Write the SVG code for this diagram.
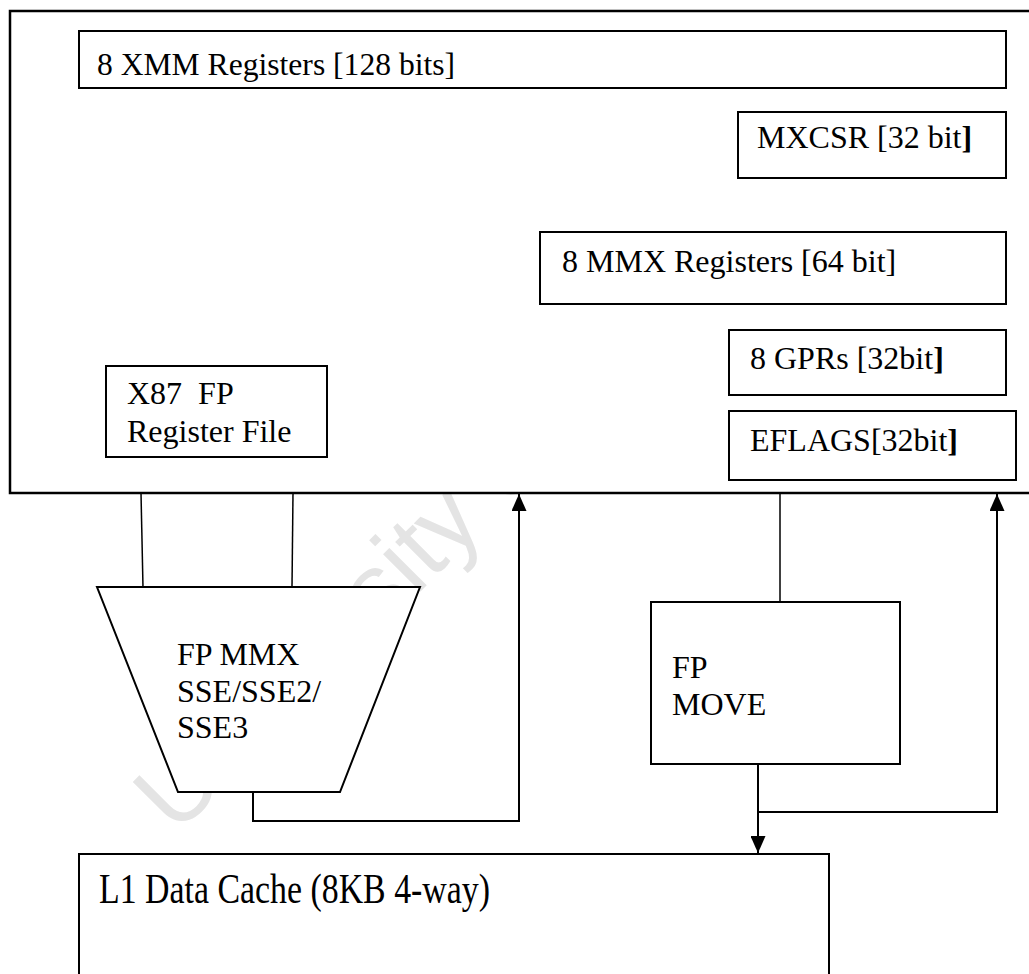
<svg xmlns="http://www.w3.org/2000/svg" width="1029" height="974" viewBox="0 0 1029 974">
  <style>
    .box { fill: #ffffff; stroke: #000000; stroke-width: 2; }
    .outer { fill: #ffffff; stroke: #000000; stroke-width: 2.5; }
    .lbl { font-family: "Liberation Serif", "Times New Roman", serif; font-size: 32px; fill: #000000; }
    .wire { fill: none; stroke: #000000; stroke-width: 1.5; }
    .arrow { fill: none; stroke: #000000; stroke-width: 2; marker-end: url(#head); }
    .wm { font-family: "Liberation Sans", Arial, sans-serif; font-size: 100px; fill: #e4e4e4; }
  </style>
  <defs>
    <marker id="head" markerUnits="userSpaceOnUse" viewBox="0 0 17 15" markerWidth="17" markerHeight="15" refX="17" refY="7.5" orient="auto">
      <path d="M0,0 L17,7.5 L0,15 Z" fill="#000000"/>
    </marker>
  </defs>
  <rect x="0" y="0" width="1029" height="974" fill="#ffffff"/>

  <text class="wm" transform="translate(176,836) rotate(-45)">University of Malaya</text>

  <g id="core">
    <rect class="outer" x="10" y="11" width="1040" height="482"/>
  </g>

  <g id="xmm">
    <rect class="box" x="79" y="31" width="927" height="57"/>
    <text class="lbl" x="97" y="75" style="font-size:31.6px">8 XMM Registers [128 bits]</text>
  </g>

  <g id="mxcsr">
    <rect class="box" x="738" y="112" width="268" height="66"/>
    <text class="lbl" x="757" y="148">MXCSR [32 bit<tspan font-weight="bold">]</tspan></text>
  </g>

  <g id="mmx">
    <rect class="box" x="540" y="232" width="466" height="72"/>
    <text class="lbl" x="562" y="272">8 MMX Registers [64 bit]</text>
  </g>

  <g id="gprs">
    <rect class="box" x="729" y="330" width="277" height="65"/>
    <text class="lbl" x="750" y="369">8 GPRs [32bit<tspan font-weight="bold">]</tspan></text>
  </g>

  <g id="eflags">
    <rect class="box" x="729" y="411" width="287" height="69"/>
    <text class="lbl" x="750" y="451">EFLAGS[32bit<tspan font-weight="bold">]</tspan></text>
  </g>

  <g id="x87">
    <rect class="box" x="106" y="366" width="221" height="91"/>
    <text class="lbl" x="127" y="404">X87 &#160;FP</text>
    <text class="lbl" x="127" y="442">Register File</text>
  </g>

  <g id="connectors">
    <line class="wire" x1="141" y1="493" x2="143" y2="587"/>
    <line class="wire" x1="293" y1="493" x2="292" y2="587"/>
    <path class="arrow" d="M253,792 V821 H519 V494"/>
    <line class="wire" x1="780" y1="493" x2="780" y2="602"/>
    <path class="arrow" d="M758,764 V853"/>
    <path class="arrow" d="M758,812 H997 V494"/>
  </g>

  <g id="alu">
    <polygon class="box" points="97,587 420,587 340,792 178,792"/>
    <text class="lbl" x="177" y="665">FP MMX</text>
    <text class="lbl" x="177" y="702">SSE/SSE2/</text>
    <text class="lbl" x="177" y="738">SSE3</text>
  </g>

  <g id="fpmove">
    <rect class="box" x="651" y="602" width="249" height="162"/>
    <text class="lbl" x="672" y="678">FP</text>
    <text class="lbl" x="672" y="715">MOVE</text>
  </g>

  <g id="l1">
    <rect class="box" x="79" y="854" width="750" height="140"/>
    <text class="lbl" x="99" y="903" style="font-size:42px" textLength="391" lengthAdjust="spacingAndGlyphs">L1 Data Cache (8KB 4-way)</text>
  </g>
</svg>
